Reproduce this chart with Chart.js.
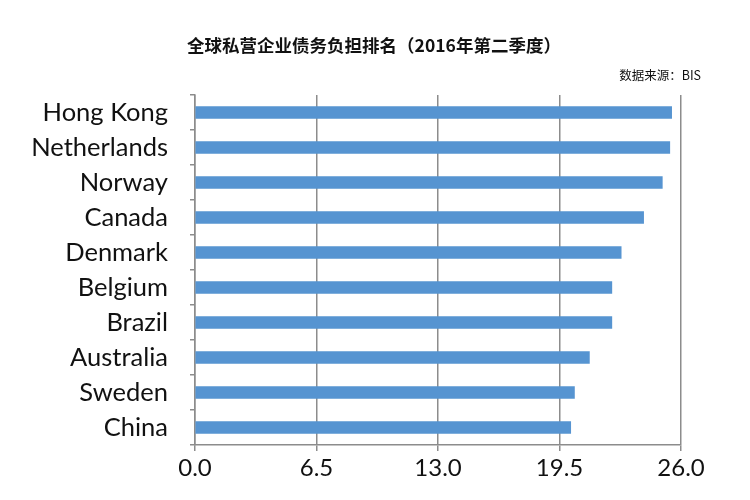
<!DOCTYPE html>
<html>
<head>
<meta charset="utf-8">
<script src="https://cdn.jsdelivr.net/npm/chart.js@4"></script>
<style>
    body { margin: 0; background: #fff; }
</style>
</head>
<body>
<canvas id="canvas-debt" width="750" height="500"></canvas>
<script>
const countries = ['Hong Kong','Netherlands','Norway','Canada','Denmark','Belgium','Brazil','Australia','Sweden','China']
const debt_values = [25.5,25.4,25.0,24.0,22.8,22.3,22.3,21.1,20.3,20.1]
const x_ticks = [0,6.5,13,19.5,26]
const chart_title = '全球私营企业债务负担排名（2016年第二季度）'
const chart_source = '数据来源：BIS'

const COLORS = {
    bar: 'rgb(86,148,209)',
    grid: 'rgb(140,140,140)',
    text: '#111'
}
const LABEL_FONT = { family: 'Lato', size: 25.5 }
const TICK_FONT = { family: 'Lato', size: 24 }

// title and source line drawn on top of the canvas
const header_plugin = {
    id: 'header',
    afterDraw(chart){
        const ctx = chart.ctx
        ctx.save()
        ctx.fillStyle = COLORS.text
        ctx.textBaseline = 'middle'
        ctx.textAlign = 'center'
        ctx.font = 'bold 17.5px "Noto Sans CJK SC"'
        ctx.fillText(chart_title, 374, 45)
        ctx.textAlign = 'right'
        ctx.font = '12.5px "Noto Sans CJK SC"'
        ctx.fillText(chart_source, 701, 75)
        ctx.restore()
    }
}

const ctx = document.getElementById('canvas-debt').getContext('2d')
new Chart(ctx,{
    type: 'bar',
    data: {
        labels: countries,
        datasets: [{
            data: debt_values,
            backgroundColor: COLORS.bar,
            barThickness: 12
        }]
    },
    options: {
        indexAxis: 'y',
        responsive: false,
        animation: false,
        devicePixelRatio: 1,
        layout: { padding: { top: 95, right: 69, left: 0, bottom: 0 } },
        scales: {
            x: {
                min: 0,
                max: 26,
                afterFit(scale){ scale.height = 55 },
                afterBuildTicks(scale){ scale.ticks = x_ticks.map(v => ({ value: v })) },
                ticks: {
                    color: COLORS.text,
                    font: TICK_FONT,
                    padding: 3,
                    maxRotation: 0,
                    callback: v => Number(v).toFixed(1)
                },
                grid: { color: COLORS.grid, lineWidth: 1.5, tickLength: 6 },
                border: { color: COLORS.grid, width: 1.5 }
            },
            y: {
                afterFit(scale){ scale.width = 195 },
                ticks: { color: COLORS.text, font: LABEL_FONT, padding: 22 },
                grid: { drawOnChartArea: false, color: COLORS.grid, lineWidth: 1.5, tickLength: 5 },
                border: { color: COLORS.grid, width: 1.5 }
            }
        },
        plugins: {
            legend: { display: false },
            tooltip: { enabled: false }
        }
    },
    plugins: [header_plugin]
})
</script>
</body>
</html>
